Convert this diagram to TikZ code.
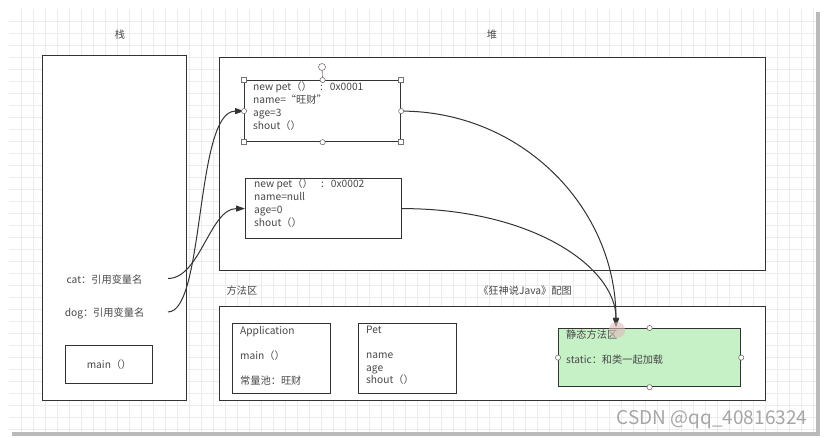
\documentclass[tikz,border=0pt]{standalone}
\usepackage{fontspec}
\newfontfamily\cjk{Noto Sans CJK SC}
\usetikzlibrary{arrows.meta}
\definecolor{ink}{RGB}{51,51,51}
\definecolor{txt}{RGB}{72,72,72}
\definecolor{gridline}{RGB}{236,236,236}
\definecolor{shade}{RGB}{140,140,140}
\definecolor{staticfill}{RGB}{198,240,198}
\definecolor{handle}{RGB}{125,112,112}
\tikzset{
  box/.style={draw=ink, line width=1.2pt, inner sep=0pt, anchor=north west},
  lbl/.style={text=txt, font=\cjk\fontsize{10.2}{12.7}\selectfont, inner sep=0pt},
  ptr/.style={draw=ink, line width=1pt, -{Triangle[length=9pt,width=6pt]}},
  hdl/.style={draw=handle, fill=white, line width=0.6pt},
}

\begin{document}
\begin{tikzpicture}[x=1pt, y=-1pt]
\useasboundingbox[fill=white] (0,0) rectangle (827,443);
% canvas with its shadow and faint grid
\fill[shade!60] (12,12) rectangle (820,436);
\fill[white] (9,9) rectangle (816,432);
\foreach \gx in {21,33,...,813} \draw[gridline, line width=0.5pt] (\gx,9) -- (\gx,432);
\foreach \gy in {21,33,...,429} \draw[gridline, line width=0.5pt] (9,\gy) -- (816,\gy);

% stack
\node[lbl] (stacktitle) at (120,35) {栈};
\node[box, fill=white, minimum width=144, minimum height=345] (stack) at (42,55) {};
\node[lbl] (cat) at (104.5,280) {cat：引用变量名};
\node[lbl] (dog) at (104.5,313) {dog：引用变量名};
\coordinate (catref) at (168,278.5);
\coordinate (dogref) at (168,312);
\node[box, minimum width=87, minimum height=38] (mainf) at (65,345) {};
\node[lbl] at (mainf.center) {main（）};

% heap
\node[lbl] (heaptitle) at (492,35) {堆};
\node[box, fill=white, minimum width=546, minimum height=213] (heap) at (219,57) {};
\node[box, minimum width=156, minimum height=61] (obj1) at (244,80) {};
\node[lbl, anchor=north west, align=left] at ([shift={(9,2)}]obj1.north west)
  {new pet（）\ \ \ \,:\ \ \ 0x0001\\name=“旺财”\\age=3\\shout（）};
\node[box, minimum width=156, minimum height=60] (obj2) at (245,178) {};
\node[lbl, anchor=north west, align=left] at ([shift={(9,1)}]obj2.north west)
  {new pet（）\ \ \ \,:\ \ \ 0x0002\\name=null\\age=0\\shout（）};

% method area
\node[lbl] (methodtitle) at (242,291) {方法区};
\node[lbl] (credit) at (525,291) {《狂神说Java》配图};
\node[box, fill=white, minimum width=546, minimum height=94] (method) at (219,306) {};
\node[box, minimum width=98, minimum height=70] (app) at (232,323) {};
\node[lbl, anchor=north west, align=left, font=\cjk\fontsize{10.2}{12.5}\selectfont]
  at ([shift={(8,3)}]app.north west) {Application\\ \\main（）\\ \\常量池：旺财};
\node[box, minimum width=98, minimum height=70] (pet) at (358,323) {};
\node[lbl, anchor=north west, align=left, font=\cjk\fontsize{10.2}{12.5}\selectfont]
  at ([shift={(8,3)}]pet.north west) {Pet\\ \\name\\age\\shout（）};
\node[box, fill=staticfill, minimum width=182, minimum height=58] (stat) at (558,328) {};
\node[lbl, anchor=north west, align=left] at ([shift={(8,2)}]stat.north west)
  {静态方法区\\[12pt]static：和类一起加载};
\coordinate (hit) at (616,327);

% references
\draw[ptr] (catref) .. controls +(32,0) and +(-35,0) .. (obj2.west);
\draw[ptr] (dogref) .. controls +(37,0) and +(-49,0) .. (obj1.west);
\draw[ptr] (obj1.east) .. controls +(120,0) and +(0,-120) .. (hit);
\draw[ptr] (obj2.east) .. controls +(130,0) and +(0,-60) .. (hit);

% selection handles
\draw[hdl] (obj1.north) -- (322,67);
\draw[hdl] (322,67) circle (3.5);
\foreach \a in {north west, north east, south west, south east}
  \draw[hdl] ([shift={(-2.5,-2.5)}]obj1.\a) rectangle ++(5,5);
\foreach \a in {north, south, east, west} {
  \draw[hdl] (obj1.\a) circle (2.6);
  \draw[hdl] (stat.\a) circle (2.6);
}
\fill[red!35!gray!40!white, opacity=0.6] (617,330) circle (8);

% watermark
\node[text=gray!70, font=\cjk\fontsize{19}{19}\selectfont, inner sep=0pt] (mark) at (712,420) {CSDN @qq\_40816324};
\end{tikzpicture}
\end{document}
